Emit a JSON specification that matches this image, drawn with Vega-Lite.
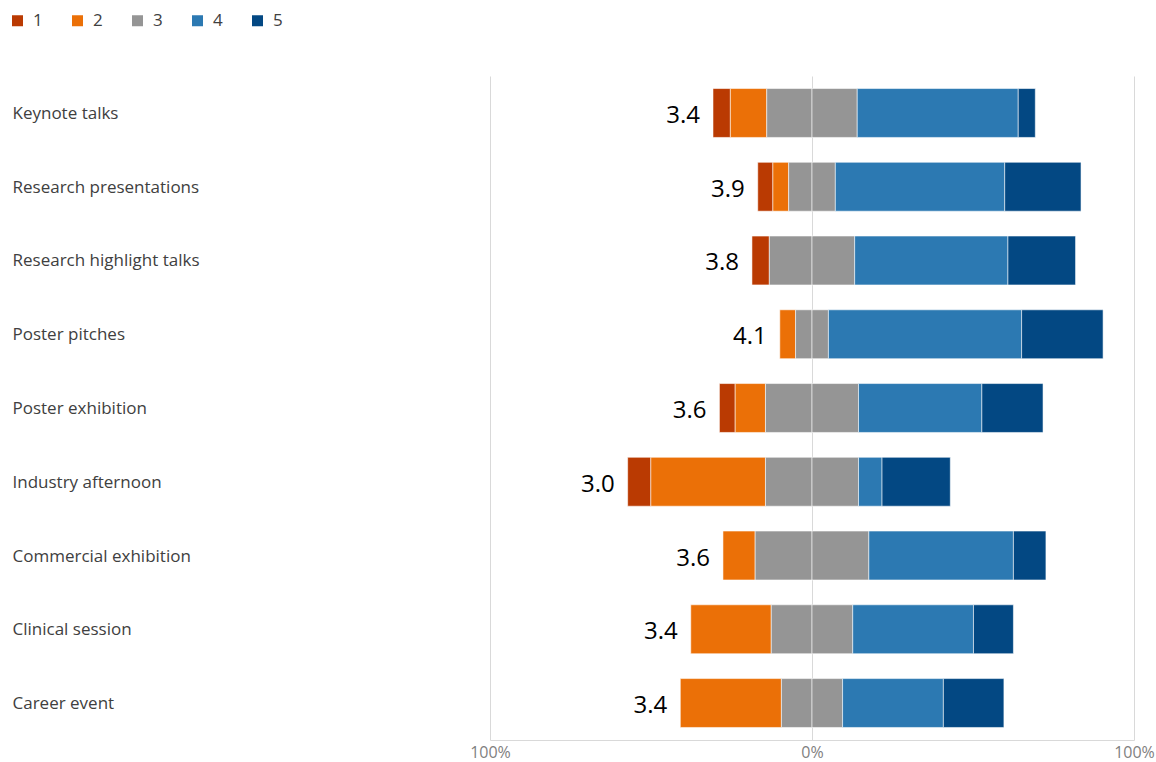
{
  "$schema": "https://vega.github.io/schema/vega-lite/v6.json",
  "width": 644,
  "height": 664,
  "autosize": {"type": "none"},
  "padding": {"left": 490, "top": 76, "right": 22, "bottom": 22},
  "background": "white",
  "config": {
    "view": {"stroke": null},
    "font": "Open Sans"
  },
  "data": {
    "values": [
      {"activity": "Keynote talks", "rating": "1", "pct": -5.4, "mean": 3.4},
      {"activity": "Keynote talks", "rating": "2", "pct": -11.3, "mean": 3.4},
      {"activity": "Keynote talks", "rating": "3", "pct": -14.05, "mean": 3.4},
      {"activity": "Keynote talks", "rating": "3", "pct": 14.05, "mean": 3.4},
      {"activity": "Keynote talks", "rating": "4", "pct": 50.0, "mean": 3.4},
      {"activity": "Keynote talks", "rating": "5", "pct": 5.3, "mean": 3.4},

      {"activity": "Research presentations", "rating": "1", "pct": -4.7, "mean": 3.9},
      {"activity": "Research presentations", "rating": "2", "pct": -4.9, "mean": 3.9},
      {"activity": "Research presentations", "rating": "3", "pct": -7.25, "mean": 3.9},
      {"activity": "Research presentations", "rating": "3", "pct": 7.25, "mean": 3.9},
      {"activity": "Research presentations", "rating": "4", "pct": 52.6, "mean": 3.9},
      {"activity": "Research presentations", "rating": "5", "pct": 23.7, "mean": 3.9},

      {"activity": "Research highlight talks", "rating": "1", "pct": -5.4, "mean": 3.8},
      {"activity": "Research highlight talks", "rating": "3", "pct": -13.25, "mean": 3.8},
      {"activity": "Research highlight talks", "rating": "3", "pct": 13.25, "mean": 3.8},
      {"activity": "Research highlight talks", "rating": "4", "pct": 47.6, "mean": 3.8},
      {"activity": "Research highlight talks", "rating": "5", "pct": 21.0, "mean": 3.8},

      {"activity": "Poster pitches", "rating": "2", "pct": -4.9, "mean": 4.1},
      {"activity": "Poster pitches", "rating": "3", "pct": -5.1, "mean": 4.1},
      {"activity": "Poster pitches", "rating": "3", "pct": 5.1, "mean": 4.1},
      {"activity": "Poster pitches", "rating": "4", "pct": 60.0, "mean": 4.1},
      {"activity": "Poster pitches", "rating": "5", "pct": 25.3, "mean": 4.1},

      {"activity": "Poster exhibition", "rating": "1", "pct": -4.9, "mean": 3.6},
      {"activity": "Poster exhibition", "rating": "2", "pct": -9.4, "mean": 3.6},
      {"activity": "Poster exhibition", "rating": "3", "pct": -14.45, "mean": 3.6},
      {"activity": "Poster exhibition", "rating": "3", "pct": 14.45, "mean": 3.6},
      {"activity": "Poster exhibition", "rating": "4", "pct": 38.3, "mean": 3.6},
      {"activity": "Poster exhibition", "rating": "5", "pct": 19.0, "mean": 3.6},

      {"activity": "Industry afternoon", "rating": "1", "pct": -7.2, "mean": 3.0},
      {"activity": "Industry afternoon", "rating": "2", "pct": -35.6, "mean": 3.0},
      {"activity": "Industry afternoon", "rating": "3", "pct": -14.45, "mean": 3.0},
      {"activity": "Industry afternoon", "rating": "3", "pct": 14.45, "mean": 3.0},
      {"activity": "Industry afternoon", "rating": "4", "pct": 7.3, "mean": 3.0},
      {"activity": "Industry afternoon", "rating": "5", "pct": 21.2, "mean": 3.0},

      {"activity": "Commercial exhibition", "rating": "2", "pct": -10.0, "mean": 3.6},
      {"activity": "Commercial exhibition", "rating": "3", "pct": -17.65, "mean": 3.6},
      {"activity": "Commercial exhibition", "rating": "3", "pct": 17.65, "mean": 3.6},
      {"activity": "Commercial exhibition", "rating": "4", "pct": 44.9, "mean": 3.6},
      {"activity": "Commercial exhibition", "rating": "5", "pct": 10.1, "mean": 3.6},

      {"activity": "Clinical session", "rating": "2", "pct": -25.0, "mean": 3.4},
      {"activity": "Clinical session", "rating": "3", "pct": -12.65, "mean": 3.4},
      {"activity": "Clinical session", "rating": "3", "pct": 12.65, "mean": 3.4},
      {"activity": "Clinical session", "rating": "4", "pct": 37.5, "mean": 3.4},
      {"activity": "Clinical session", "rating": "5", "pct": 12.4, "mean": 3.4},

      {"activity": "Career event", "rating": "2", "pct": -31.4, "mean": 3.4},
      {"activity": "Career event", "rating": "3", "pct": -9.5, "mean": 3.4},
      {"activity": "Career event", "rating": "3", "pct": 9.5, "mean": 3.4},
      {"activity": "Career event", "rating": "4", "pct": 31.3, "mean": 3.4},
      {"activity": "Career event", "rating": "5", "pct": 18.8, "mean": 3.4}
    ]
  },
  "encoding": {
    "y": {
      "field": "activity",
      "type": "nominal",
      "sort": ["Keynote talks", "Research presentations", "Research highlight talks", "Poster pitches", "Poster exhibition", "Industry afternoon", "Commercial exhibition", "Clinical session", "Career event"],
      "scale": {"paddingInner": 0.337, "paddingOuter": 0.17},
      "axis": {
        "title": null,
        "ticks": false,
        "tickSize": 0,
        "domain": false,
        "grid": false,
        "labelAlign": "left",
        "labelPadding": 478,
        "labelFontSize": 17,
        "labelColor": "#404040",
        "labelFont": "Open Sans",
        "labelLimit": 400,
        "labelBaseline": "middle",
        "labelOffset": 1
      }
    }
  },
  "layer": [
    {
      "transform": [{"filter": "datum.pct < 0"}],
      "mark": {"type": "bar", "stroke": "white", "strokeWidth": 1, "strokeOpacity": 0.55},
      "encoding": {
        "x": {
          "field": "pct",
          "type": "quantitative",
          "stack": "zero",
          "scale": {"domain": [-100, 100], "nice": false},
          "axis": {
            "values": [-100, 0, 100],
            "labelExpr": "abs(datum.value) + '%'",
            "title": null,
            "grid": true,
            "gridColor": "#d9d9d9",
            "gridWidth": 1,
            "ticks": false,
            "domain": true,
            "domainColor": "#d9d9d9",
            "labelFontSize": 16,
            "labelColor": "#7f7f7f",
            "labelPadding": 4,
            "labelFont": "Open Sans",
            "labelFlush": false
          }
        },
        "color": {
          "field": "rating",
          "type": "nominal",
          "scale": {"domain": ["1", "2", "3", "4", "5"], "range": ["#BA3A02", "#EB7007", "#959595", "#2C79B2", "#034883"]},
          "legend": {
            "title": null,
            "orient": "none",
            "legendX": -481,
            "legendY": -64,
            "direction": "horizontal",
            "columns": 5,
            "columnPadding": 26,
            "symbolType": "square",
            "symbolSize": 121,
            "symbolStrokeWidth": 0,
            "labelOffset": 7,
            "labelFontSize": 17,
            "labelColor": "#404040",
            "labelFont": "Open Sans",
            "padding": 0
          }
        },
        "order": {"field": "rating", "sort": "descending"}
      }
    },
    {
      "transform": [{"filter": "datum.pct > 0"}],
      "mark": {"type": "bar", "stroke": "white", "strokeWidth": 1, "strokeOpacity": 0.55},
      "encoding": {
        "x": {"field": "pct", "type": "quantitative", "stack": "zero"},
        "color": {"field": "rating", "type": "nominal"},
        "order": {"field": "rating", "sort": "ascending"}
      }
    },
    {
      "transform": [
        {"filter": "datum.pct < 0"},
        {"aggregate": [{"op": "sum", "field": "pct", "as": "left"}], "groupby": ["activity", "mean"]}
      ],
      "mark": {"type": "text", "align": "right", "baseline": "middle", "dx": -13, "dy": 3, "fontSize": 24, "font": "Open Sans", "color": "#000000"},
      "encoding": {
        "x": {"field": "left", "type": "quantitative"},
        "text": {"field": "mean", "type": "quantitative", "format": ".1f"}
      }
    }
  ]
}
